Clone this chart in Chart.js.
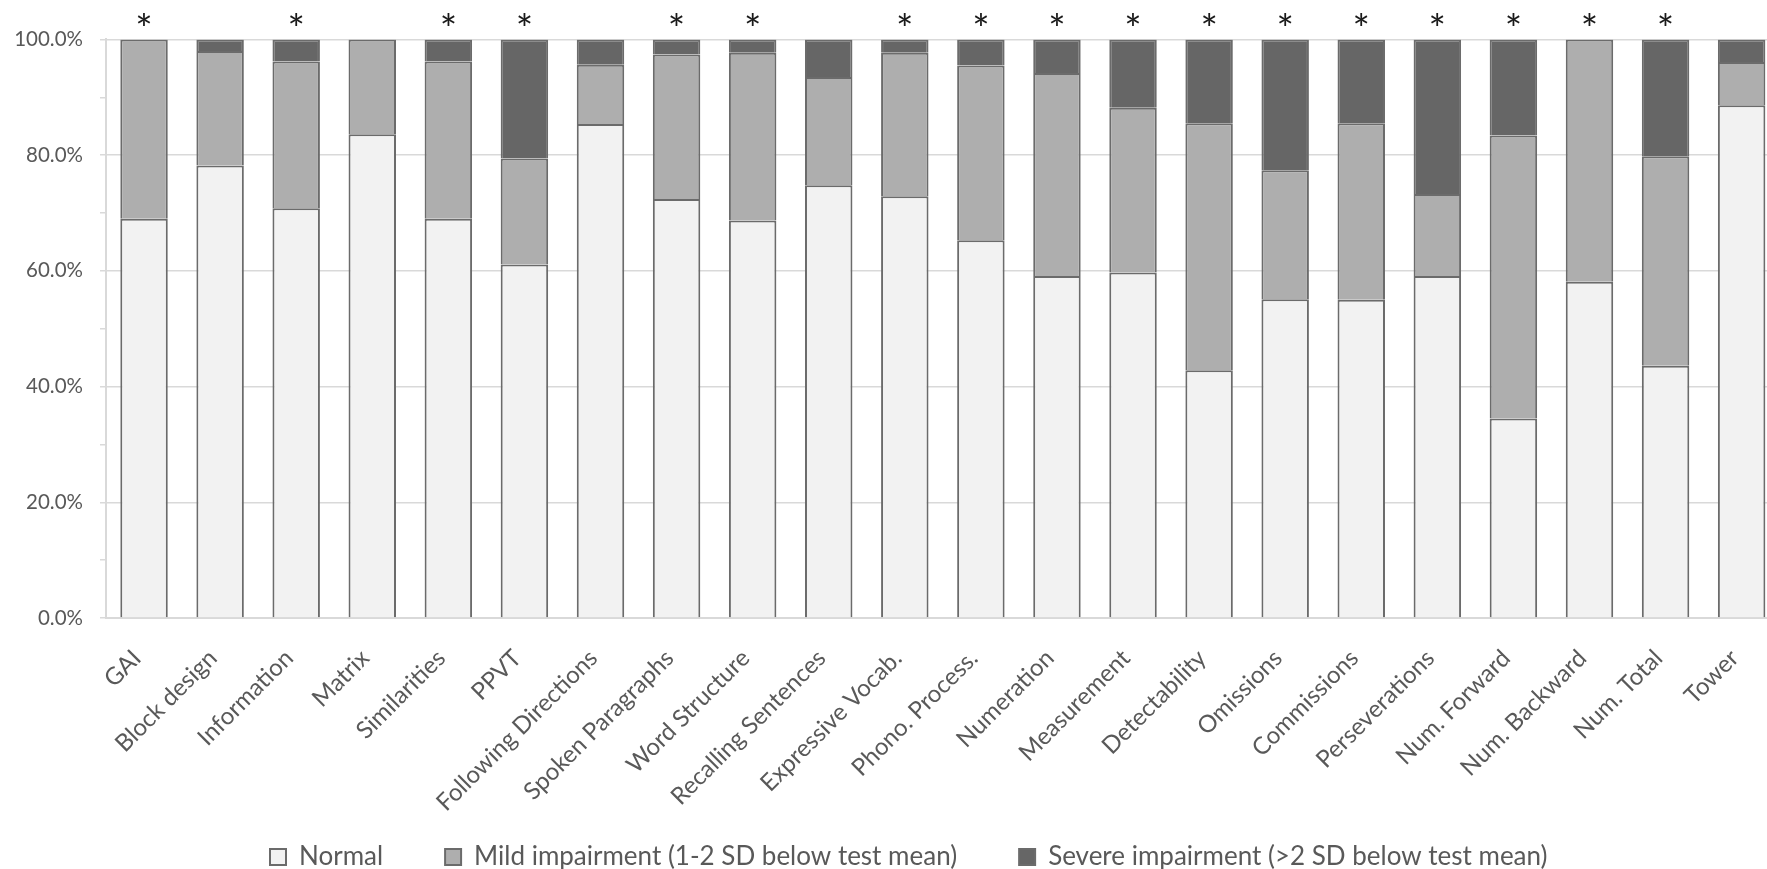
<!DOCTYPE html>
<html>
<head>
<meta charset="utf-8">
<title>Impairment classification by test</title>
<script src="https://cdn.jsdelivr.net/npm/chart.js@4.4.1/dist/chart.umd.min.js"></script>
<style>
  html, body { margin: 0; padding: 0; background: #ffffff; overflow: hidden; }
  #wrap { position: relative; width: 1767px; height: 869px; overflow: hidden; background: #ffffff; }
  canvas { display: block; }
</style>
</head>
<body>
<div id="wrap"><canvas id="chart" width="1780" height="880" style="width:1780px;height:880px"></canvas></div>
<script>
// Test names along the x axis
const categories = [
  'GAI', 'Block design', 'Information', 'Matrix', 'Similarities', 'PPVT',
  'Following Directions', 'Spoken Paragraphs', 'Word Structure', 'Recalling Sentences',
  'Expressive Vocab.', 'Phono. Process.', 'Numeration', 'Measurement', 'Detectability',
  'Omissions', 'Commissions', 'Perseverations', 'Num. Forward', 'Num. Backward',
  'Num. Total', 'Tower'
];

// Percentage of children in each performance band
const normalPct = [69.0, 78.2, 70.8, 83.6, 69.0, 61.1, 85.4, 72.4, 68.7, 74.8, 72.9,
                   65.3, 59.1, 59.7, 42.8, 55.1, 55.0, 59.1, 34.5, 58.1, 43.6, 88.6];
const mildPct   = [31.0, 19.8, 25.4, 16.4, 27.2, 18.3, 10.2, 25.0, 29.0, 18.7, 24.8,
                   30.2, 35.1, 28.5, 42.7, 22.3, 30.5, 14.2, 48.9, 41.9, 36.2, 7.5];
const severePct = [0.0, 2.0, 3.8, 0.0, 3.8, 20.6, 4.4, 2.6, 2.3, 6.5, 2.3,
                   4.5, 5.8, 11.8, 14.5, 22.6, 14.5, 26.7, 16.6, 0.0, 20.2, 3.9];

// Tests marked with an asterisk above the bar
const significant = [1, 0, 1, 0, 1, 1, 0, 1, 1, 0, 1, 1, 1, 1, 1, 1, 1, 1, 1, 1, 1, 0];

// Series names shown in the legend
const seriesNames = [
  'Normal',
  'Mild impairment (1-2 SD below test mean)',
  'Severe impairment (>2 SD below test mean)'
];

// Labelled y ticks (every 20%), with unlabelled minor ticks in between
const yTickValues = [0, 20, 40, 60, 80, 100];
const yTickLabels = ['0.0%', '20.0%', '40.0%', '60.0%', '80.0%', '100.0%'];

const FONT = 'Lato, "Open Sans", "Noto Sans", sans-serif';
const TEXT_GREY = '#595959';
const GRID_GREY = '#d9d9d9';
const OUTLINE = '#6b6b6b';

Chart.defaults.font.family = FONT;
Chart.defaults.color = TEXT_GREY;

// Asterisks above flagged bars
const significanceMarks = {
  id: 'significanceMarks',
  afterDatasetsDraw(chart) {
    const { ctx, chartArea } = chart;
    const x = chart.scales.x;
    ctx.save();
    ctx.font = '41px ' + FONT;
    ctx.fillStyle = '#1a1a1a';
    ctx.textAlign = 'center';
    ctx.textBaseline = 'alphabetic';
    const y = chartArea.top + 4.5;
    significant.forEach((flag, i) => {
      if (flag) ctx.fillText('*', x.getPixelForValue(i), y);
    });
    ctx.restore();
  }
};

// Legend row placement; rotated tick labels may run down to the legend
const layoutTweaks = {
  id: 'layoutTweaks',
  afterLayout(chart) {
    const lg = chart.legend;
    if (lg && lg.lineWidths) {
      const pad = lg.options.labels.padding;
      const start = (lg.left + pad + lg.right - lg.lineWidths[0]) / 2;
      const dx = 270 - start;
      lg.left += dx;
      lg.right += dx;
    }
    const xs = chart.scales.x;
    if (xs) xs.bottom = chart.height;
  }
};

const barStyle = {
  borderColor: OUTLINE,
  borderWidth: 2,
  borderSkipped: 'start',
  barPercentage: 0.624,
  categoryPercentage: 1.0
};

new Chart(document.getElementById('chart'), {
  type: 'bar',
  data: {
    labels: categories,
    datasets: [
      Object.assign({ label: seriesNames[0], data: normalPct, backgroundColor: '#f2f2f2' }, barStyle),
      Object.assign({ label: seriesNames[1], data: mildPct, backgroundColor: '#aeaeae' }, barStyle),
      Object.assign({ label: seriesNames[2], data: severePct, backgroundColor: '#666666' }, barStyle)
    ]
  },
  options: {
    responsive: false,
    animation: false,
    devicePixelRatio: 1,
    layout: { padding: { top: 39.4, left: 0, right: 0, bottom: 0 } },
    plugins: {
      tooltip: { enabled: false },
      title: { display: false },
      legend: {
        position: 'bottom',
        align: 'center',
        labels: {
          boxWidth: 16,
          boxHeight: 16,
          padding: 62,
          color: TEXT_GREY,
          font: { size: 26, family: FONT }
        }
      }
    },
    scales: {
      x: {
        stacked: true,
        offset: true,
        grid: { display: false },
        border: { display: true, color: GRID_GREY, width: 2 },
        ticks: {
          autoSkip: false,
          minRotation: 45,
          maxRotation: 45,
          padding: 18,
          labelOffset: -7,
          color: TEXT_GREY,
          font: { size: 24, family: FONT }
        },
        afterFit(scale) { scale.height = 164; }
      },
      y: {
        stacked: true,
        min: 0,
        max: 100,
        grid: {
          color: (ctx) => (ctx.tick && yTickValues.includes(ctx.tick.value)) ? GRID_GREY : 'rgba(0,0,0,0)',
          tickColor: GRID_GREY,
          lineWidth: 1.5,
          drawTicks: true,
          tickLength: 6
        },
        border: { display: true, color: GRID_GREY, width: 2 },
        ticks: {
          stepSize: 10,
          padding: 17,
          color: TEXT_GREY,
          font: { size: 20.5, family: FONT },
          callback: (value) => {
            const idx = yTickValues.indexOf(value);
            return idx >= 0 ? yTickLabels[idx] : '';
          }
        },
        afterFit(scale) { scale.width = 106; }
      }
    }
  },
  plugins: [significanceMarks, layoutTweaks]
});
</script>
</body>
</html>
